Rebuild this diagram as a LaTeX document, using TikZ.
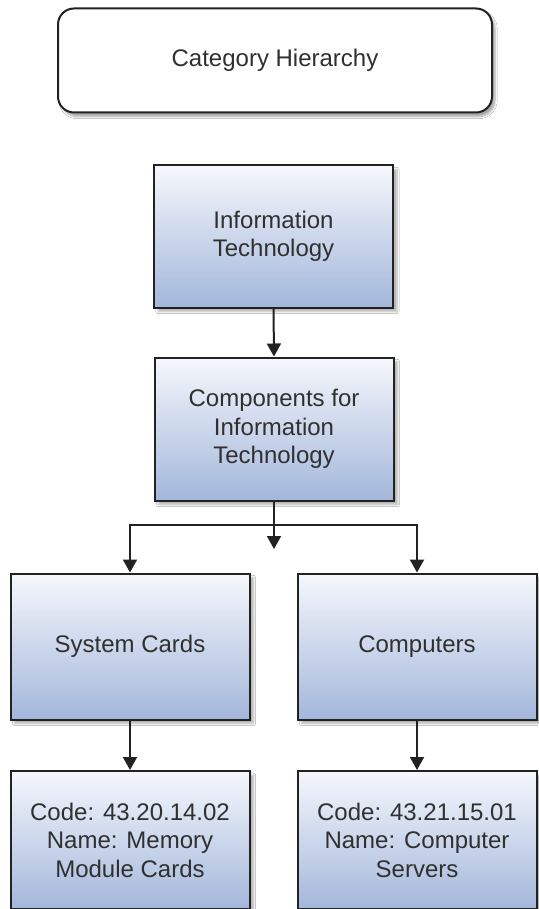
\documentclass[tikz,border=0pt]{standalone}
\usepackage{fontspec}
\setmainfont{Liberation Sans}
\usetikzlibrary{arrows.meta,shadows.blur}
\definecolor{boxtop}{HTML}{F5F7FC}
\definecolor{boxbot}{HTML}{A3B7DB}
\definecolor{edge}{HTML}{222222}
\definecolor{txt}{HTML}{303030}
\tikzset{
  lbl/.style={font=\fontsize{24}{28.5}\selectfont, text=txt, align=center},
  catbox/.style={lbl, draw=edge, line width=2pt, fill=white, rounded corners=16pt,
    blur shadow={shadow xshift=3pt, shadow yshift=-4pt, shadow blur steps=6, shadow opacity=35},
    minimum width=434pt, minimum height=104pt, inner sep=0pt},
  bluebox/.style={lbl, draw=edge, line width=2pt, top color=boxtop, bottom color=boxbot,
    blur shadow={shadow xshift=4pt, shadow yshift=-4pt, shadow blur steps=6, shadow opacity=30},
    minimum width=239pt, inner sep=0pt},
  arr/.style={draw=edge, line width=2pt, -{Triangle[width=14pt,length=13pt]}},
  ln/.style={draw=edge, line width=2pt}
}
\begin{document}
\begin{tikzpicture}[x=1pt,y=-1pt]
\useasboundingbox[fill=white] (0,0) rectangle (538,909);
\node[catbox] (cat) at (275,60.5) {Category Hierarchy};
\node[bluebox, minimum height=142pt] (it) at (273.5,236.5) {Information\\Technology};
\node[bluebox, minimum height=143pt] (comp) at (274,429) {Components for\\Information\\Technology};
\node[bluebox, minimum height=146pt] (sys) at (130,646.5) {System Cards};
\node[bluebox, minimum height=146pt] (cmp) at (417,646.5) {Computers};
\node[bluebox, minimum height=138pt, text depth=0pt] (mem) at (130,840) {Code: 43.20.14.02\\Name: Memory\\Module Cards};
\node[bluebox, minimum height=138pt, text depth=0pt] (srv) at (417,840) {Code: 43.21.15.01\\Name: Computer\\Servers};
\coordinate (j) at (274,525);
\coordinate (jt) at (274,549);
\draw[arr] (it.south) -- (comp.north);
\draw[arr] (comp.south) -- (jt);
\draw[arr] (j) -| (sys.north);
\draw[arr] (j) -| (cmp.north);
\draw[arr] (sys.south) -- (mem.north);
\draw[arr] (cmp.south) -- (srv.north);
\end{tikzpicture}
\end{document}
